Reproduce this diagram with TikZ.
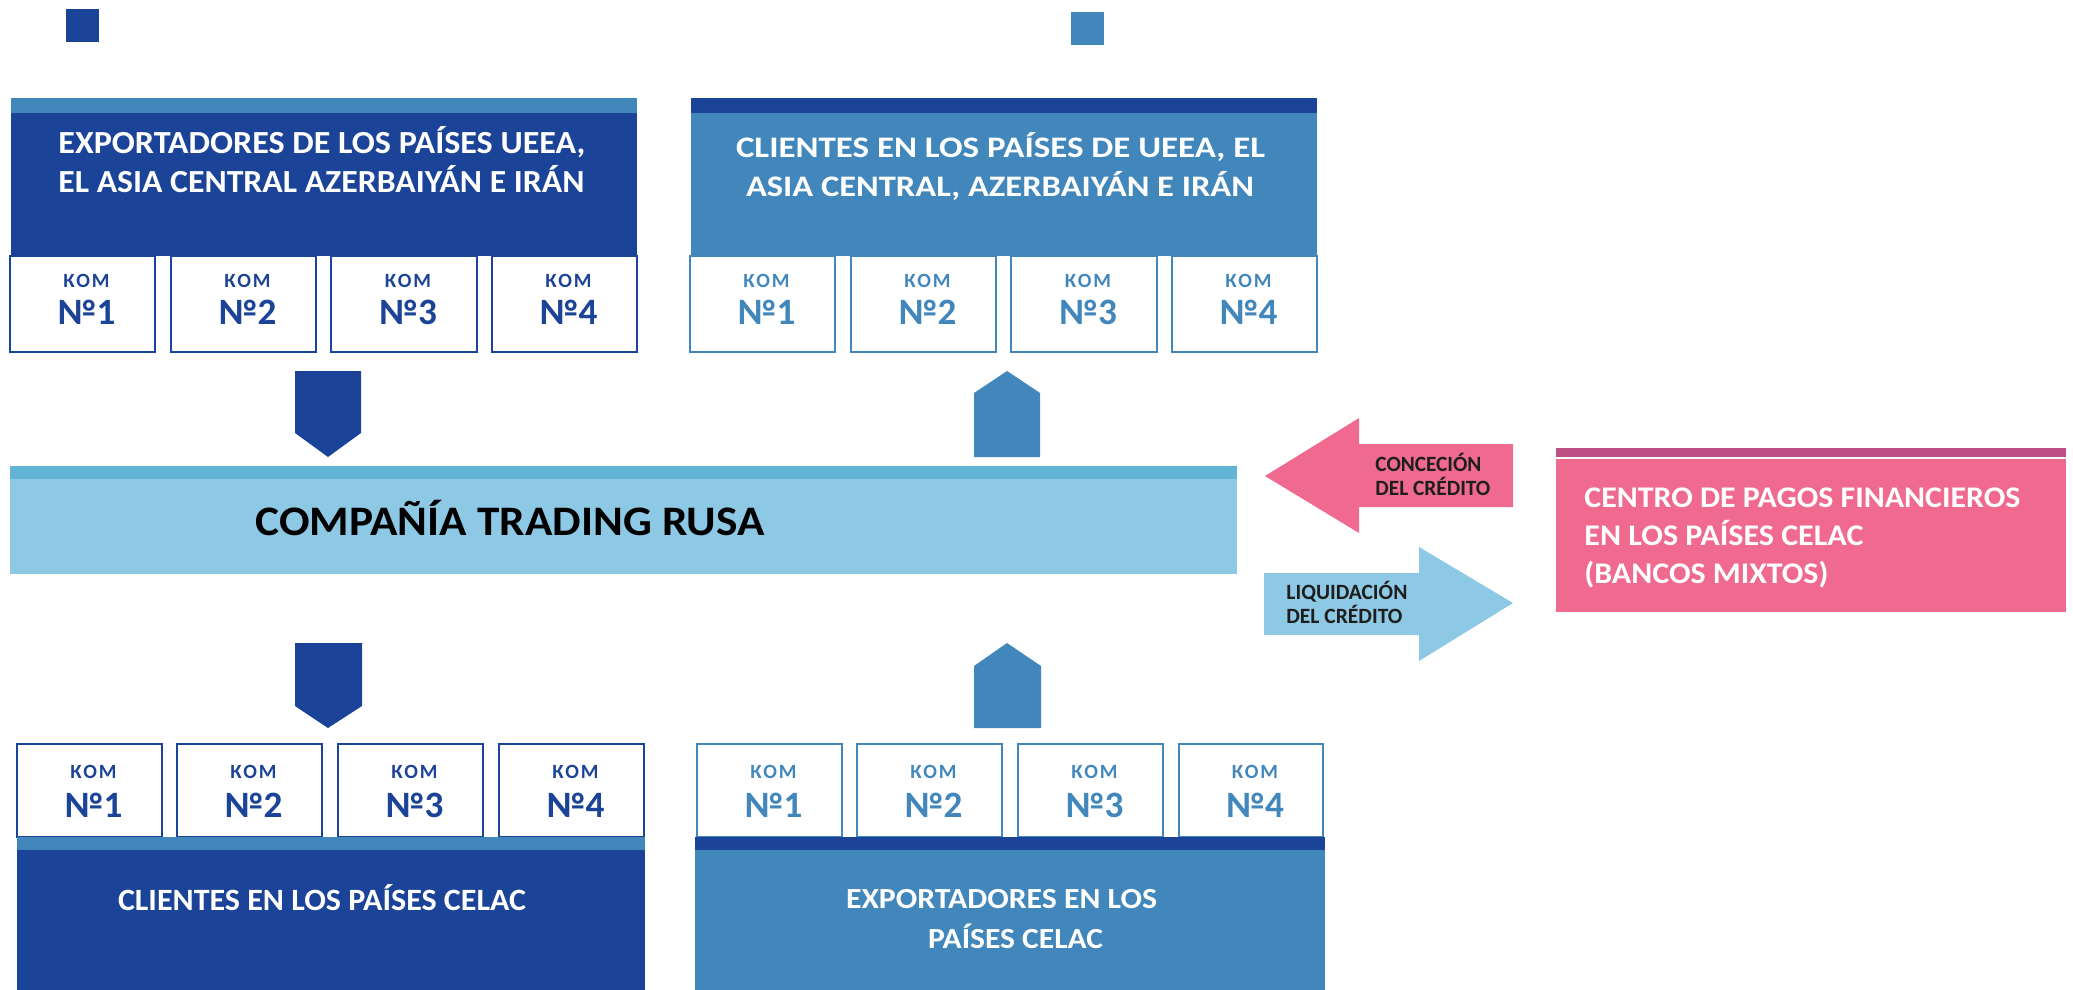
\documentclass[tikz,border=0pt]{standalone}
\usepackage{graphicx}
\usepackage{fontspec}
\setmainfont{Carlito}
\definecolor{dblue}{RGB}{27,67,151}
\definecolor{mblue}{RGB}{66,135,188}
\definecolor{lblue}{RGB}{141,200,229}
\definecolor{sblue}{RGB}{98,180,212}
\definecolor{pinkc}{RGB}{240,106,143}
\definecolor{plum}{RGB}{188,79,132}
\definecolor{txtd}{RGB}{30,30,30}
\newlength\fitlen
% #1 = target width in px (1px = 0.5pt), #2 = text
\newcommand\wfit[2]{\settowidth\fitlen{#2}\pgfmathsetmacro\fitfac{#1*0.5/\fitlen}\scalebox{\fitfac}[1]{#2}}
\newcommand\komfont{\fontsize{10.1}{12}\selectfont\bfseries\addfontfeatures{LetterSpace=10}}
\tikzset{
  kombox/.style={draw, fill=white, line width=1pt, inner sep=0pt, minimum height=48pt},
  komlbl/.style={font=\komfont, inner sep=0pt, anchor=base},
  numlbl/.style={font=\fontsize{18.6}{22}\selectfont\bfseries, inner sep=0pt, anchor=base},
  headtxt/.style={text=white, inner sep=0pt},
  pinktxt/.style={font=\fontsize{15}{19}\selectfont\bfseries, text=white, inner sep=0pt, anchor=base west},
  arrtxt/.style={font=\fontsize{10.9}{12}\selectfont\bfseries, text=txtd, inner sep=0pt, anchor=base west},
}
\begin{document}
\begin{tikzpicture}[x=0.5pt,y=-0.5pt]
\useasboundingbox (0,0) rectangle (2073,990);
% legend squares
\fill[dblue] (66,9) rectangle (99,42);
\fill[mblue] (1071,12) rectangle (1104,45);

% ---------- top left block
\fill[mblue] (11,98) rectangle (637,113);
\fill[dblue] (11,113) rectangle (637,256);
\node[headtxt, font=\fontsize{16.1}{19}\selectfont\bfseries, anchor=base west] (tl1) at (58,154) {\wfit{527}{EXPORTADORES DE LOS PAÍSES UEEA,}};
\node[headtxt, font=\fontsize{16.1}{19}\selectfont\bfseries, anchor=base west] (tl2) at (58,192) {\wfit{526}{EL ASIA CENTRAL AZERBAIYÁN E IRÁN}};
\foreach \i/\xa/\xb in {1/10/155,2/171/316,3/331/477,4/492/637}{
  \node[kombox, draw=dblue, minimum width={(\xb-\xa)*0.5pt}] (tlk\i) at ({(\xa+\xb)/2},304) {};
  \node[komlbl, text=dblue] (tlka\i) at ({(\xa+\xb)/2+4},287) {КОМ};
  \node[numlbl, text=dblue] (tlkb\i) at ({(\xa+\xb)/2+4},324) {№\i};
}

% ---------- top right block
\fill[dblue] (691,98) rectangle (1317,113);
\fill[mblue] (691,113) rectangle (1317,256);
\node[headtxt, font=\fontsize{14.9}{19}\selectfont\bfseries, anchor=base] (tr1) at (1000.5,158) {\wfit{529}{CLIENTES EN LOS PAÍSES DE UEEA, EL}};
\node[headtxt, font=\fontsize{14.9}{19}\selectfont\bfseries, anchor=base] (tr2) at (1000,197) {\wfit{508}{ASIA CENTRAL, AZERBAIYÁN E IRÁN}};
\foreach \i/\xa/\xb in {1/690/835,2/851/996,3/1011/1157,4/1172/1317}{
  \node[kombox, draw=mblue, minimum width={(\xb-\xa)*0.5pt}] (trk\i) at ({(\xa+\xb)/2},304) {};
  \node[komlbl, text=mblue] (trka\i) at ({(\xa+\xb)/2+4},287) {КОМ};
  \node[numlbl, text=mblue] (trkb\i) at ({(\xa+\xb)/2+4},324) {№\i};
}

% ---------- block arrows upper
\fill[dblue] (295,371) -- (361,371) -- (361,433) -- (328,457) -- (295,433) -- cycle;
\fill[mblue] (974,457) -- (974,393) -- (1007,371) -- (1040,393) -- (1040,457) -- cycle;

% ---------- central bar
\fill[sblue] (10,466) rectangle (1237,479);
\fill[lblue] (10,479) rectangle (1237,574);
\node[font=\fontsize{21}{24}\selectfont\bfseries, text=black, inner sep=0pt, anchor=base west] (trading) at (255,535) {\wfit{509}{COMPAÑÍA TRADING RUSA}};

% ---------- credit arrows
\fill[pinkc] (1265,476) -- (1359,418) -- (1359,444) -- (1513,444) -- (1513,507) -- (1359,507) -- (1359,533) -- cycle;
\node[arrtxt] (con1) at (1375,471) {\wfit{106}{CONCECIÓN}};
\node[arrtxt] (con2) at (1375,495) {\wfit{115}{DEL CRÉDITO}};
\fill[lblue] (1264,573) -- (1419,573) -- (1419,547) -- (1513,603) -- (1419,661) -- (1419,635) -- (1264,635) -- cycle;
\node[arrtxt] (liq1) at (1286,599) {\wfit{121}{LIQUIDACIÓN}};
\node[arrtxt] (liq2) at (1286,623) {\wfit{116}{DEL CRÉDITO}};

% ---------- pink box
\fill[plum] (1556,448) rectangle (2066,457);
\fill[pinkc] (1556,459) rectangle (2066,612);
\node[pinktxt] (pk1) at (1584,507) {\wfit{436}{CENTRO DE PAGOS FINANCIEROS}};
\node[pinktxt] (pk2) at (1584,545) {\wfit{279}{EN LOS PAÍSES CELAC}};
\node[pinktxt] (pk3) at (1584,583) {\wfit{244}{(BANCOS MIXTOS)}};

% ---------- block arrows lower
\fill[dblue] (295,643) -- (362,643) -- (362,706) -- (328,728) -- (295,706) -- cycle;
\fill[mblue] (974,728) -- (974,666) -- (1007,643) -- (1041,666) -- (1041,728) -- cycle;

% ---------- bottom left block
\foreach \i/\xa/\xb in {1/17/162,2/177/322,3/338/483,4/499/644}{
  \node[kombox, draw=dblue, minimum height=46.5pt, minimum width={(\xb-\xa)*0.5pt}] (blk\i) at ({(\xa+\xb)/2},790.5) {};
  \node[komlbl, text=dblue] (blka\i) at ({(\xa+\xb)/2+4},778) {КОМ};
  \node[numlbl, text=dblue] (blkb\i) at ({(\xa+\xb)/2+4},817) {№\i};
}
\fill[mblue] (17,837) rectangle (645,850);
\fill[dblue] (17,850) rectangle (645,990);
\node[headtxt, font=\fontsize{15.5}{19}\selectfont\bfseries, anchor=base] (bl1) at (322,910) {\wfit{408}{CLIENTES EN LOS PAÍSES CELAC}};

% ---------- bottom right block
\foreach \i/\xa/\xb in {1/697/842,2/857/1002,3/1018/1163,4/1179/1323}{
  \node[kombox, draw=mblue, minimum height=46.5pt, minimum width={(\xb-\xa)*0.5pt}] (brk\i) at ({(\xa+\xb)/2},790.5) {};
  \node[komlbl, text=mblue] (brka\i) at ({(\xa+\xb)/2+4},778) {КОМ};
  \node[numlbl, text=mblue] (brkb\i) at ({(\xa+\xb)/2+4},817) {№\i};
}
\fill[dblue] (695,837) rectangle (1325,850);
\fill[mblue] (695,850) rectangle (1325,990);
\node[headtxt, font=\fontsize{14.6}{19}\selectfont\bfseries, anchor=base] (br1) at (1001.5,908) {\wfit{311}{EXPORTADORES EN LOS}};
\node[headtxt, font=\fontsize{14.6}{19}\selectfont\bfseries, anchor=base] (br2) at (1015.5,948) {\wfit{175}{PAÍSES CELAC}};
\end{tikzpicture}
\end{document}
